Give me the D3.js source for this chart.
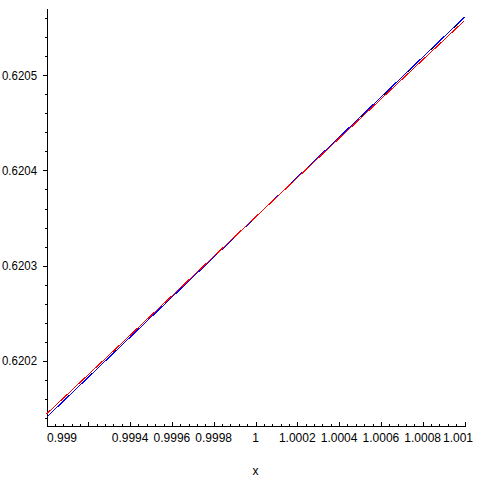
<!DOCTYPE html>
<html>
<head>
<meta charset="utf-8">
<script src="https://cdn.jsdelivr.net/npm/d3@7"></script>
<style>
  html, body { margin: 0; padding: 0; background: #fff; }
  svg { display: block; }
  text { font-family: "Liberation Sans", Arial, sans-serif; font-size: 12px; fill: #000; }
</style>
</head>
<body>
<svg id="chart" width="484" height="484"></svg>
<script>
// ---- data ----
const xValues = [0.999, 0.9995, 1.0, 1.0005, 1.001];
const blackValues = [0.6201406, 0.6202457, 0.6203508, 0.6204559, 0.6205610];
const redValues   = [0.6201440, 0.6202475, 0.6203510, 0.6204543, 0.6205575];
const blueValues  = [0.6201405, 0.6202457, 0.6203508, 0.6204560, 0.6205612];

const xMajorTicks = [0.999, 0.9992, 0.9994, 0.9996, 0.9998, 1, 1.0002, 1.0004, 1.0006, 1.0008, 1.001];
const xTickLabels = ["0.999", "", "0.9994", "0.9996", "0.9998", "1", "1.0002", "1.0004", "1.0006", "1.0008", "1.001"];
const yMajorTicks = [0.6202, 0.6203, 0.6204, 0.6205];
const yTickLabels = ["0.6202", "0.6203", "0.6204", "0.6205"];
const xDomain = [0.999, 1.001];
const yDomain = [0.6201319, 0.6205694];
const xTitle = "x";

// ---- layout ----
const svg = d3.select("#chart");
const mLeft = 46.5, mRight = 464.5, mTop = 9.3, mBottom = 425.5;
const x = d3.scaleLinear().domain(xDomain).range([mLeft, mRight]);
const y = d3.scaleLinear().domain(yDomain).range([mBottom, mTop]);

// minor ticks
const xMinor = [];
for (let i = 0; i < xMajorTicks.length - 1; i++) {
  for (let k = 1; k < 5; k++) xMinor.push(xMajorTicks[i] + (xMajorTicks[i + 1] - xMajorTicks[i]) * k / 5);
}
const yMinorAll = [];
const yStepMinor = (yMajorTicks[1] - yMajorTicks[0]) / 5;
for (let v = yMajorTicks[0] - 5 * yStepMinor; v <= yDomain[1] + 1e-12; v += yStepMinor) {
  if (v >= yDomain[0] - 1e-12) yMinorAll.push(v);
}

const g = svg.append("g").attr("shape-rendering", "crispEdges");
const L = Math.round(mLeft), B = Math.round(mBottom);

// axes lines
g.append("line").attr("x1", L + 0.5).attr("x2", L + 0.5)
  .attr("y1", mTop).attr("y2", B + 1).attr("stroke", "#000");
g.append("line").attr("x1", L).attr("x2", mRight + 1)
  .attr("y1", B + 0.5).attr("y2", B + 0.5).attr("stroke", "#000");

// x ticks (drawn upward)
g.selectAll(".xmaj").data(xMajorTicks).enter().append("line")
  .attr("x1", d => Math.round(x(d)) + 0.5).attr("x2", d => Math.round(x(d)) + 0.5)
  .attr("y1", B).attr("y2", B - 4).attr("stroke", "#000");
g.selectAll(".xmin").data(xMinor).enter().append("line")
  .attr("x1", d => Math.round(x(d)) + 0.5).attr("x2", d => Math.round(x(d)) + 0.5)
  .attr("y1", B).attr("y2", B - 2).attr("stroke", "#000");

// y ticks (drawn leftward)
g.selectAll(".ymaj").data(yMajorTicks).enter().append("line")
  .attr("x1", L - 4).attr("x2", L)
  .attr("y1", d => Math.round(y(d)) + 0.5).attr("y2", d => Math.round(y(d)) + 0.5).attr("stroke", "#000");
g.selectAll(".ymin").data(yMinorAll).enter().append("line")
  .attr("x1", L - 2).attr("x2", L)
  .attr("y1", d => Math.round(y(d)) + 0.5).attr("y2", d => Math.round(y(d)) + 0.5).attr("stroke", "#000");

// y tick labels
svg.selectAll(".ylab").data(yMajorTicks).enter().append("text")
  .attr("x", 37).attr("y", d => y(d)).attr("dy", "0.36em")
  .attr("text-anchor", "end").attr("textLength", 35).attr("lengthAdjust", "spacingAndGlyphs")
  .text((d, i) => yTickLabels[i]);

// x tick labels (kept inside the window)
svg.selectAll(".xlab").data(xMajorTicks).enter().append("text")
  .attr("y", 441.5).text((d, i) => xTickLabels[i])
  .attr("x", function (d) {
    const w = this.getComputedTextLength();
    let cx = x(d) - w / 2;
    cx = Math.max(47, Math.min(cx, 473 - w));
    return cx;
  });

// axis title
svg.append("text").attr("x", x(1)).attr("y", 475).attr("text-anchor", "middle").text(xTitle);

// lines
const line = d3.line().x((d, i) => x(xValues[i])).y(d => y(d));
const series = [
  { values: blackValues, color: "#000000" },
  { values: blueValues, color: "#0000ff" },
  { values: redValues, color: "#ff0000" }
];
svg.selectAll(".series").data(series).enter().append("path")
  .attr("d", d => line(d.values))
  .attr("fill", "none").attr("stroke", d => d.color).attr("stroke-width", 1)
  .attr("shape-rendering", "crispEdges");
</script>
</body>
</html>
